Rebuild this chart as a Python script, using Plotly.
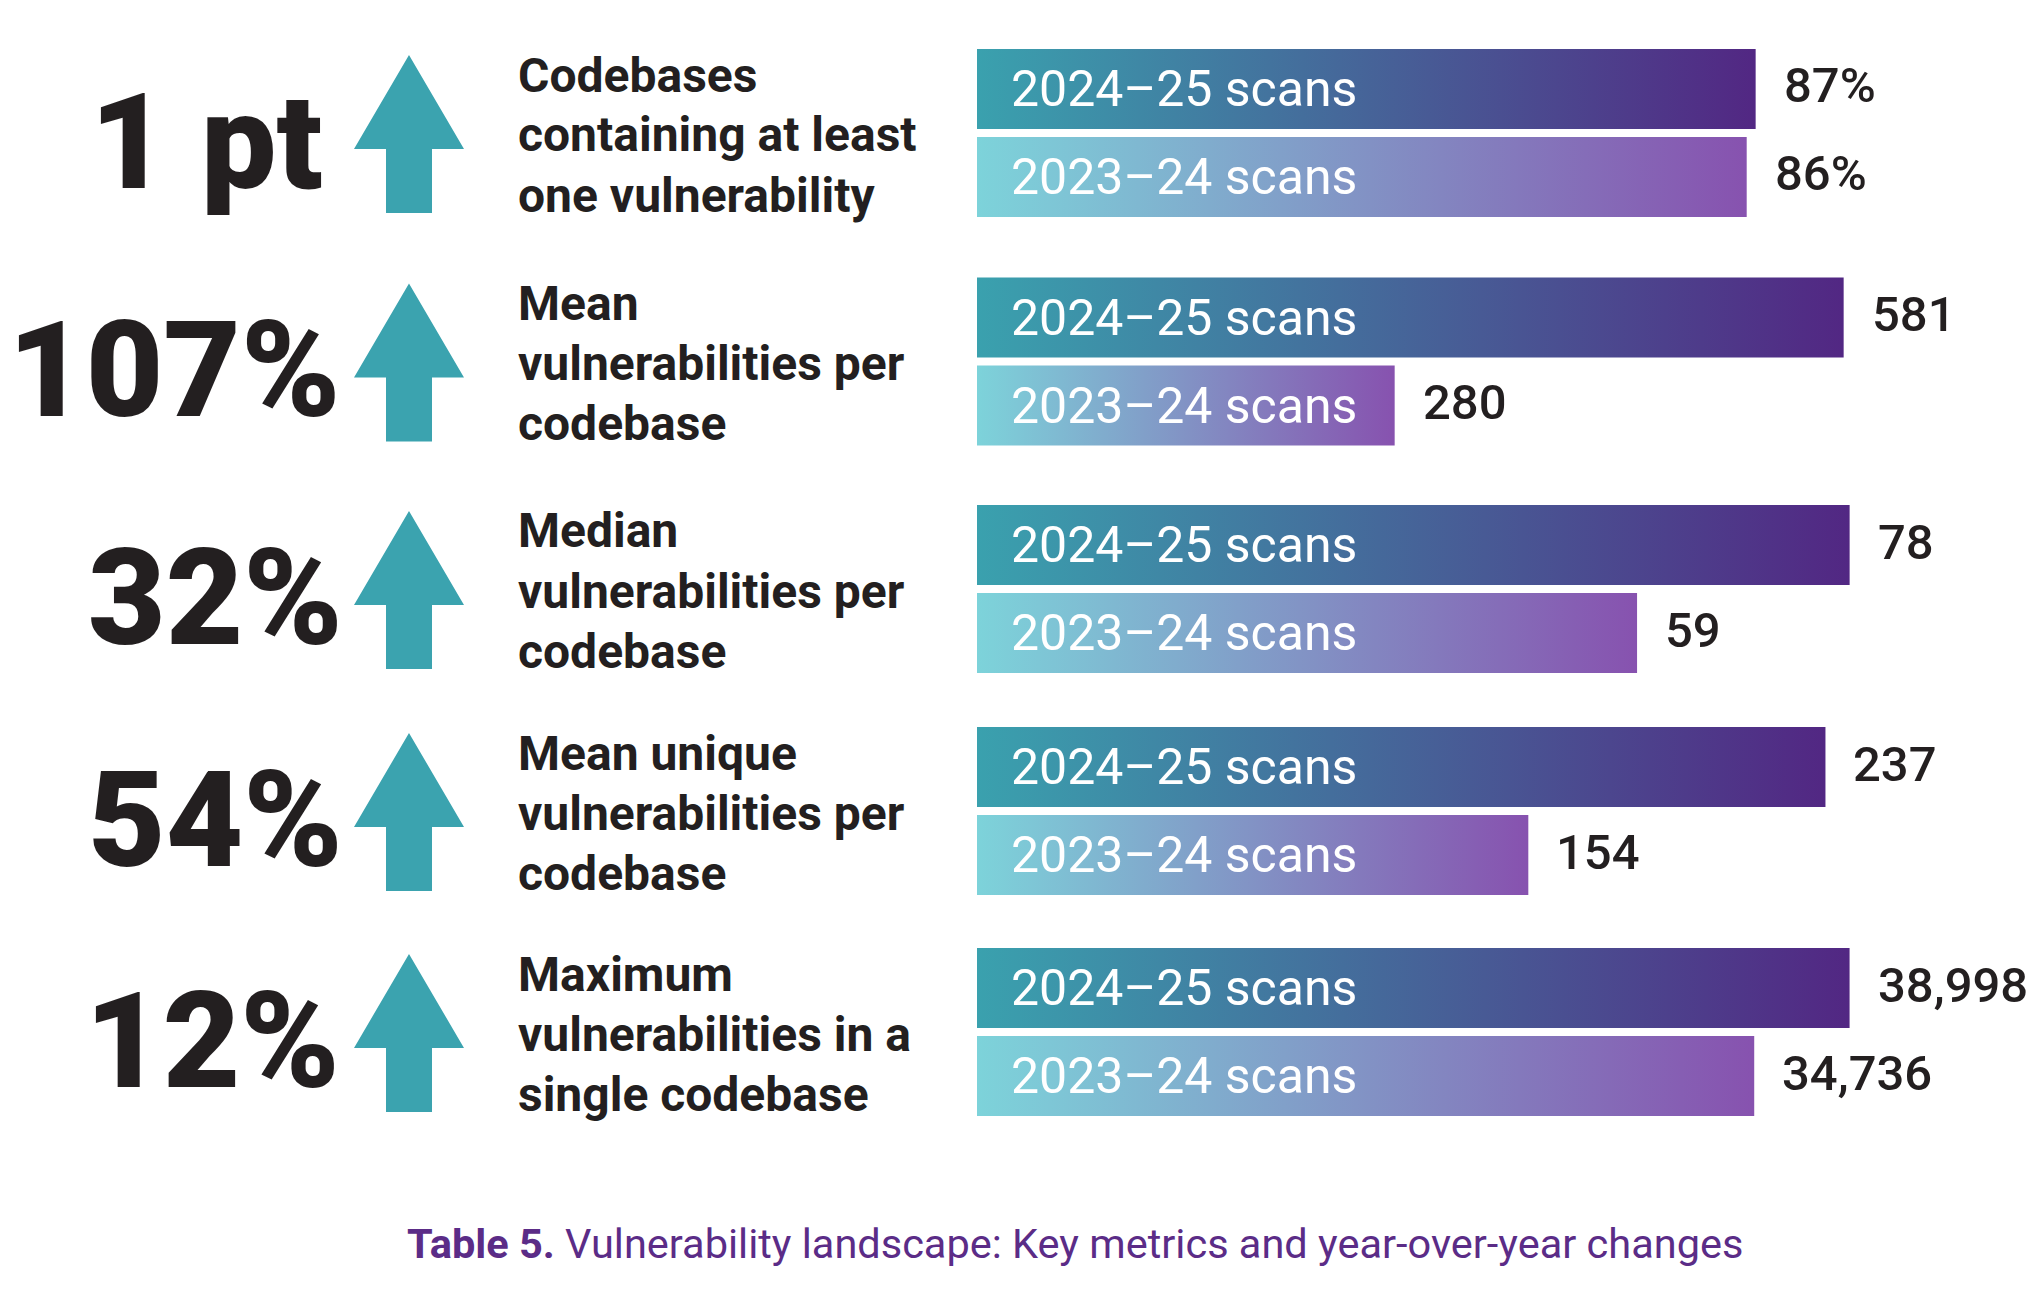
import plotly.graph_objects as go

# ---------------- data ----------------
metric_labels = [
    "Codebases<br>containing at least<br>one vulnerability",
    "Mean<br>vulnerabilities per<br>codebase",
    "Median<br>vulnerabilities per<br>codebase",
    "Mean unique<br>vulnerabilities per<br>codebase",
    "Maximum<br>vulnerabilities in a<br>single codebase",
]
change_labels = ["1 pt", "107%", "32%", "54%", "12%"]
series_names = ["2023–24 scans", "2024–25 scans"]
values_2023_24 = [86, 280, 59, 154, 34736]
values_2024_25 = [87, 581, 78, 237, 38998]
value_suffix = ["%", "", "", "", ""]
scale_max = [100, 600, 80, 250, 40000]
caption = "<b>Table 5.</b> Vulnerability landscape: Key metrics and year-over-year changes"

# ---------------- style / geometry ----------------
W, H = 2042, 1301
row_centers = [133, 361.5, 589, 811, 1032]
big_right_px = [325, 343, 345, 345, 342]
X0, XW = 977, 895
BAR_PX, STEP_PX = 80, 88
DARK = "#231F20"
ARROW = "#3BA3AF"
PURPLE = "#5B2C87"
gradients = [
    [[0, "rgb(125,211,218)"], [1, "rgb(135,82,175)"]],   # 2023-24
    [[0, "rgb(58,161,174)"], [1, "rgb(82,39,131)"]],      # 2024-25
]
FONT = "Roboto, Noto Sans, sans-serif"

fig = go.Figure()
annotations = []
shapes = []
layout_axes = {}

def px_y(p):
    return 1 - p / H

def px_x(p):
    return p / W

half = BAR_PX / STEP_PX / 2
series_values = [values_2023_24, values_2024_25]

for i, c in enumerate(row_centers):
    k = "" if i == 0 else str(i + 1)
    xa, ya = "x" + k, "y" + k
    layout_axes["xaxis" + k] = dict(domain=[px_x(X0), px_x(X0 + XW)], range=[0, scale_max[i]],
                                    visible=False, fixedrange=True, anchor=ya)
    layout_axes["yaxis" + k] = dict(domain=[px_y(c + STEP_PX), px_y(c - STEP_PX)], range=[-0.5, 1.5],
                                    visible=False, fixedrange=True, anchor=xa)
    for j, vals in enumerate(series_values):
        v = vals[i]
        fig.add_trace(go.Scatter(
            x=[0, v, v, 0, 0], y=[j - half, j - half, j + half, j + half, j - half],
            xaxis=xa, yaxis=ya, mode="lines", fill="toself",
            line=dict(width=0, color="rgba(0,0,0,0)"),
            fillgradient=dict(type="horizontal", colorscale=gradients[j]),
            hoverinfo="skip", showlegend=False, name=series_names[j],
        ))
        annotations.append(dict(x=0, y=j, xref=xa, yref=ya, text=series_names[j], showarrow=False,
                                xanchor="left", yanchor="middle", xshift=32,
                                font=dict(family=FONT, size=50, color="white")))
        annotations.append(dict(x=v, y=j, xref=xa, yref=ya, text=f"{v:,}{value_suffix[i]}",
                                showarrow=False, xanchor="left", yanchor="middle", xshift=26, yshift=3,
                                font=dict(family=FONT, size=49, color=DARK, weight=500)))
    # big change number
    annotations.append(dict(x=px_x(big_right_px[i]), y=px_y(c + 9), xref="paper", yref="paper",
                            text=change_labels[i], showarrow=False, xanchor="right", yanchor="middle",
                            font=dict(family=FONT, size=134, color=DARK, weight=900)))
    # metric label lines
    for n, line in enumerate(metric_labels[i].split("<br>")):
        annotations.append(dict(x=px_x(516), y=px_y(c - 58 + 60 * n), xref="paper", yref="paper",
                                text=line, showarrow=False, xanchor="left", yanchor="middle",
                                font=dict(family=FONT, size=48, color=DARK, weight=700)))
    # arrow decoration
    pts = [(409, c - 78), (464, c + 16), (432, c + 16), (432, c + 80),
           (386, c + 80), (386, c + 16), (354, c + 16)]
    path = "M " + " L ".join(f"{px_x(x):.5f},{px_y(y):.5f}" for x, y in pts) + " Z"
    shapes.append(dict(type="path", xref="paper", yref="paper", path=path,
                       fillcolor=ARROW, line=dict(width=0)))

annotations.append(dict(x=px_x(1075), y=px_y(1243), xref="paper", yref="paper", text=caption,
                        showarrow=False, xanchor="center", yanchor="middle",
                        font=dict(family=FONT, size=41.5, color=PURPLE)))

fig.update_layout(
    width=W, height=H, margin=dict(l=0, r=0, t=0, b=0),
    paper_bgcolor="white", plot_bgcolor="white",
    showlegend=False, annotations=annotations, shapes=shapes,
    **layout_axes,
)

fig.write_html("out.html", config={"displayModeBar": False})
